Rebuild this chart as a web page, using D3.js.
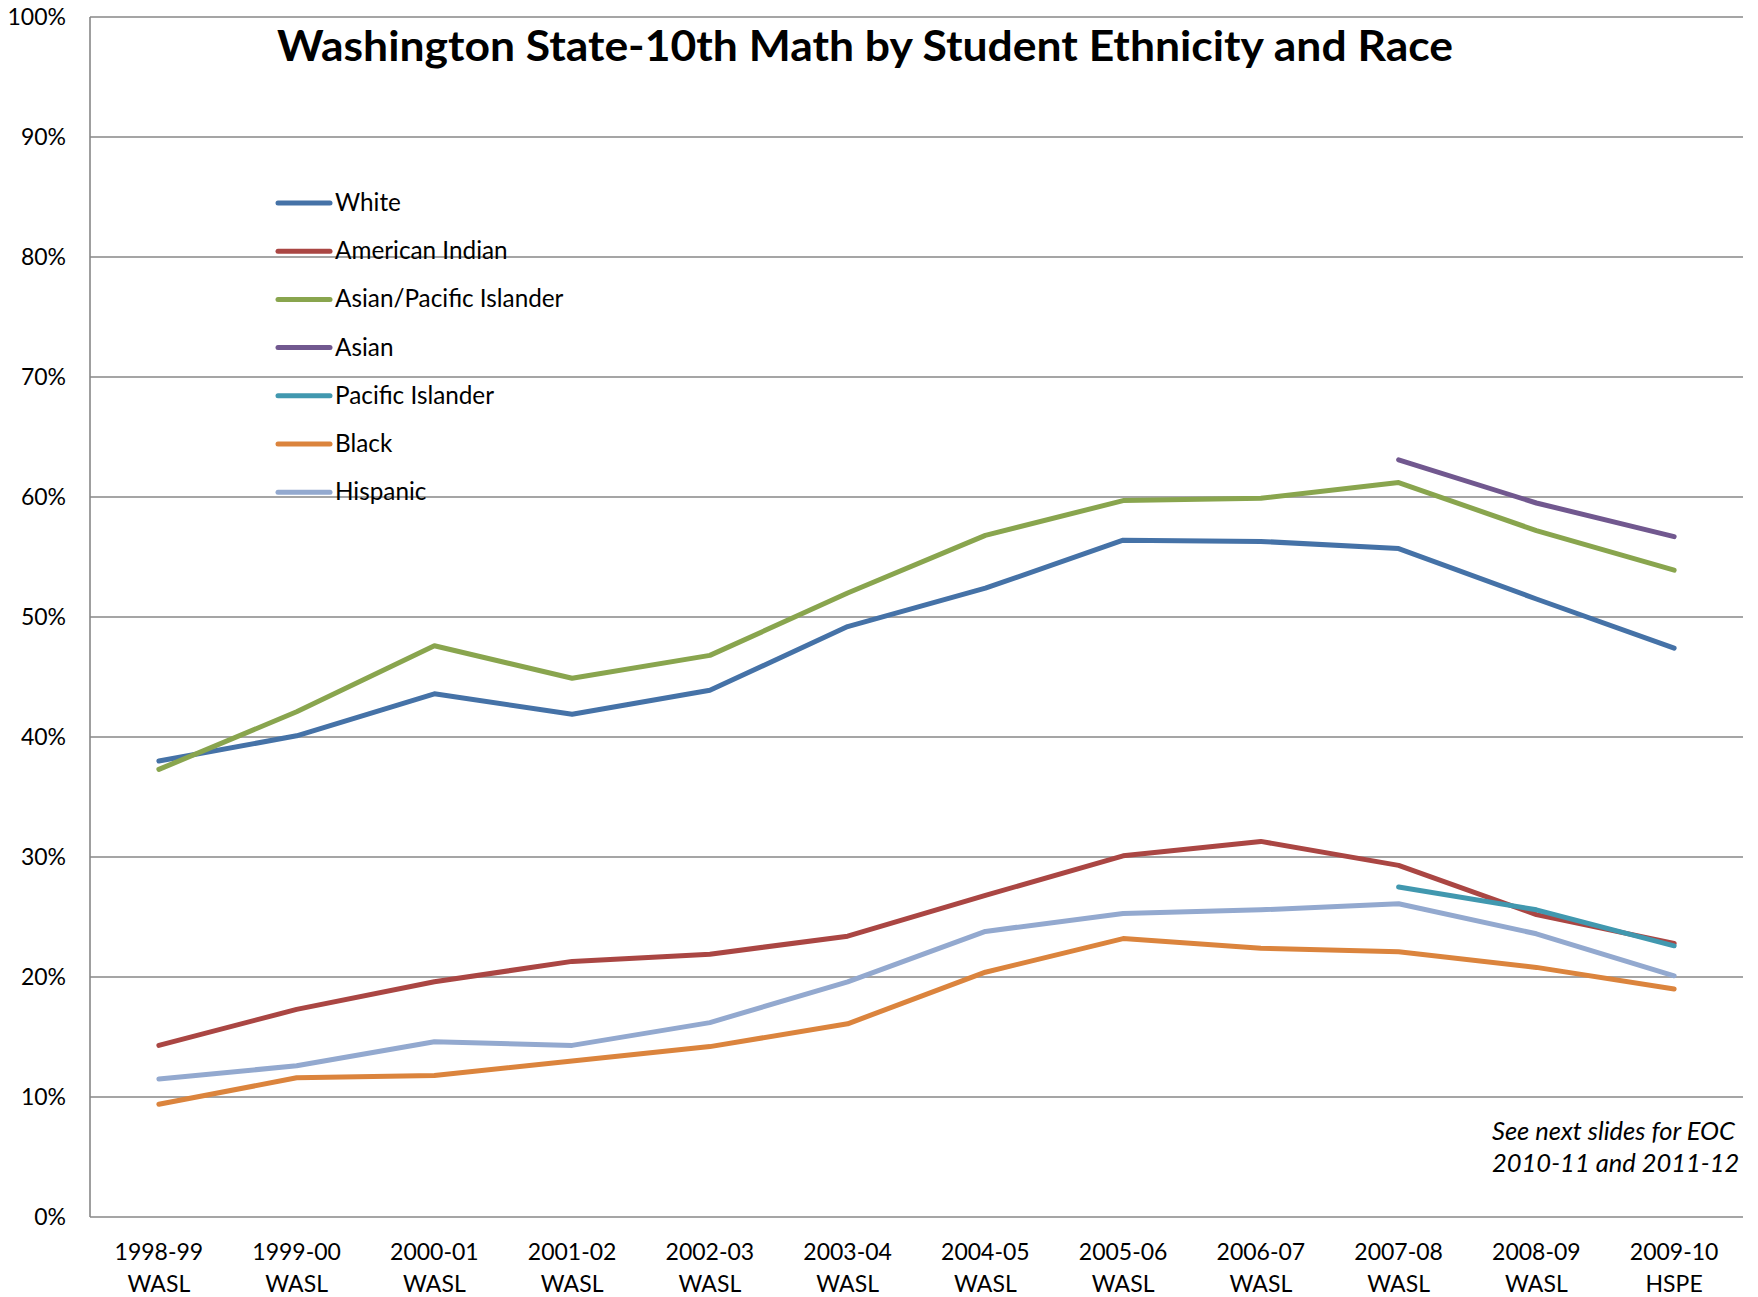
<!DOCTYPE html>
<html>
<head>
<meta charset="utf-8">
<script src="https://cdn.jsdelivr.net/npm/d3@7/dist/d3.min.js"></script>
<style>
  html, body { margin: 0; padding: 0; background: #ffffff; }
  svg { display: block; }
  text { font-family: Lato, "Open Sans", sans-serif; fill: #000; }
</style>
</head>
<body>
<svg id="chart" width="1758" height="1297"></svg>
<script>
// ---- data ----
const categories = ["1998-99", "1999-00", "2000-01", "2001-02", "2002-03", "2003-04",
                    "2004-05", "2005-06", "2006-07", "2007-08", "2008-09", "2009-10"];
const testNames = ["WASL", "WASL", "WASL", "WASL", "WASL", "WASL",
                   "WASL", "WASL", "WASL", "WASL", "WASL", "HSPE"];
const yTicks = [0, 10, 20, 30, 40, 50, 60, 70, 80, 90, 100];

const white           = [38.0, 40.1, 43.6, 41.9, 43.9, 49.2, 52.4, 56.4, 56.3, 55.7, 51.5, 47.4];
const americanIndian  = [14.3, 17.3, 19.6, 21.3, 21.9, 23.4, 26.8, 30.1, 31.3, 29.3, 25.2, 22.8];
const asianPacific    = [37.3, 42.1, 47.6, 44.9, 46.8, 52.0, 56.8, 59.7, 59.9, 61.2, 57.2, 53.9];
const asian           = [null, null, null, null, null, null, null, null, null, 63.1, 59.5, 56.7];
const pacificIslander = [null, null, null, null, null, null, null, null, null, 27.5, 25.6, 22.6];
const black           = [9.4, 11.6, 11.8, 13.0, 14.2, 16.1, 20.4, 23.2, 22.4, 22.1, 20.8, 19.0];
const hispanic        = [11.5, 12.6, 14.6, 14.3, 16.2, 19.6, 23.8, 25.3, 25.6, 26.1, 23.6, 20.1];

const seriesNames  = ["White", "American Indian", "Asian/Pacific Islander", "Asian",
                      "Pacific Islander", "Black", "Hispanic"];
const seriesValues = [white, americanIndian, asianPacific, asian, pacificIslander, black, hispanic];
const seriesColors = ["#4572A7", "#AA4643", "#89A54E", "#71588F", "#4198AF", "#DB843D", "#93A9CF"];

const titleText = "Washington State-10th Math by Student Ethnicity and Race";
const noteLines = ["See next slides for EOC", "2010-11 and 2011-12"];

// ---- layout ----
const svg = d3.select("#chart");
const plot = { left: 90, right: 1743, top: 17, bottom: 1217 };

const x = d3.scalePoint().domain(categories).range([plot.left, plot.right]).padding(0.5);
const y = d3.scaleLinear().domain([0, 100]).range([plot.bottom, plot.top]);

// gridlines
svg.append("g").selectAll("line").data(yTicks).join("line")
  .attr("x1", plot.left).attr("x2", plot.right)
  .attr("y1", d => y(d)).attr("y2", d => y(d))
  .attr("stroke", "#878787").attr("stroke-width", 1.6);

// y axis line
svg.append("line")
  .attr("x1", plot.left).attr("x2", plot.left)
  .attr("y1", plot.top).attr("y2", plot.bottom)
  .attr("stroke", "#878787").attr("stroke-width", 1.6);

// y tick labels
const yAxis = d3.axisLeft(y).tickValues(yTicks).tickFormat(d => d + "%").tickSize(0).tickPadding(24);
const gy = svg.append("g").attr("transform", `translate(${plot.left},0)`).call(yAxis);
gy.select(".domain").remove();
gy.selectAll("text").style("font-family", "Lato, sans-serif").style("font-size", "23px").attr("fill", "#000");

// x labels (two lines)
const xl = svg.append("g");
categories.forEach((c, i) => {
  const t = xl.append("text").attr("x", x(c)).attr("text-anchor", "middle")
    .style("font-size", "23px");
  t.append("tspan").attr("x", x(c)).attr("y", 1260).text(c);
  t.append("tspan").attr("x", x(c)).attr("y", 1292).text(testNames[i]);
});

// lines
const line = d3.line()
  .defined(d => d.v !== null)
  .x(d => x(d.c))
  .y(d => y(d.v));

svg.append("g").selectAll("path").data(seriesValues).join("path")
  .attr("d", vals => line(vals.map((v, i) => ({ c: categories[i], v }))))
  .attr("fill", "none")
  .attr("stroke", (d, i) => seriesColors[i])
  .attr("stroke-width", 5)
  .attr("stroke-linejoin", "round")
  .attr("stroke-linecap", "round");

// legend
const legend = svg.append("g");
seriesNames.forEach((n, i) => {
  const yy = 203 + i * 48.2;
  legend.append("line")
    .attr("x1", 278).attr("x2", 330).attr("y1", yy).attr("y2", yy)
    .attr("stroke", seriesColors[i]).attr("stroke-width", 5)
    .attr("stroke-linecap", "round");
  legend.append("text").attr("x", 335).attr("y", yy + 8)
    .style("font-size", "24.3px").text(n);
});

// title
svg.append("text")
  .attr("x", 277).attr("y", 61)
  .attr("textLength", 1176).attr("lengthAdjust", "spacingAndGlyphs")
  .style("font-size", "42px").style("font-weight", "bold")
  .text(titleText);

// note
noteLines.forEach((l, i) => {
  svg.append("text").attr("x", 1492).attr("y", 1140 + i * 32)
    .style("font-size", "25.5px").style("font-style", "italic").text(l);
});
</script>
</body>
</html>
